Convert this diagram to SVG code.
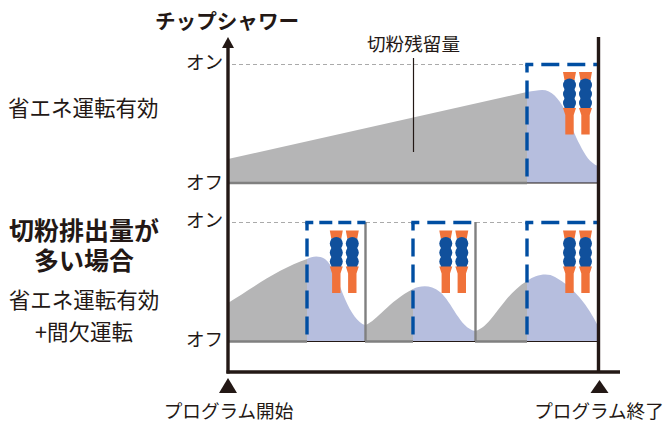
<svg xmlns="http://www.w3.org/2000/svg" width="670" height="427" viewBox="0 0 670 427">
<style>
text{font-family:"Noto Sans CJK JP","Liberation Sans",sans-serif;fill:#231815;font-size:18.6px}
.b{font-weight:700}
.m{text-anchor:middle}
.s{font-size:21.500px}
.grey{fill:#b5b5b6}
.blue{fill:#b6bede}
.on{stroke:#aaa;stroke-width:1;stroke-dasharray:4 3;fill:none}
.gl{stroke:#808080;stroke-width:2.400;fill:none}
.tl{stroke:#231815;stroke-width:1.200;fill:none}
.axis{stroke:#231815;stroke-width:3.400;fill:none}
.dash{stroke:#004ea2;stroke-width:3.400;fill:none;stroke-dasharray:18 8;stroke-dashoffset:10}
.short{stroke-dasharray:13 6;stroke-dashoffset:5}
.o{fill:#f0723a}
.n{fill:#10509c}
</style>
<defs>
<g id="nz">
<path class="o" d="M-6.500 0H6.500L5 8H-5Z"/>
<circle class="n" cx="0" cy="13" r="6.500"/><circle class="n" cx="0" cy="22" r="6.500"/><circle class="n" cx="0" cy="31" r="6.500"/>
<rect class="n" x="-5" y="8" width="10" height="29"/>
<path class="o" d="M-6.500 36H6.500L4.200 43V62.500H-4.200V43Z"/>
</g>
<g id="pair"><use href="#nz" x="0"/><use href="#nz" x="16"/></g>
</defs>

<g id="panel-top">
<path class="grey" d="M228 159L527 92V183H228Z"/>
<path class="blue" d="M527 92C533 91 538 90 542 90C552 90 558 98 565 110C571 124 575 136 580 145C585 155 590 163 598 166V183H527Z"/>
<path class="on" d="M232 64.500H527"/>
<path class="gl" d="M228 183H527"/>
<path class="tl" d="M527 183H598"/>
<path class="tl" d="M413.500 58V152"/>
<use href="#pair" x="569.500" y="72"/>
<path class="dash" d="M527 64.500V183"/>
<path class="dash" d="M525.300 64.500H598"/>
</g>

<g id="panel-bottom">
<path class="grey" d="M228 303C252 288 280 268 307 259V341.500H228Z"/>
<path class="blue" d="M307 259C312 256.500 318 255 325 259C333 265 338 282 345 299C351 313 358 323 365 325V341.500H307Z"/>
<path class="grey" d="M365.500 325C378 320 388 302 413 289V341.500H365.500Z"/>
<path class="blue" d="M413 289C420 286 430 284 440 292C452 302 460 328 475 331V341.500H413Z"/>
<path class="grey" d="M475.500 331C492 327 502 296 527 281V341.500H475.500Z"/>
<path class="blue" d="M527 281C535 275 547 272 555 277C574 287 588 306 598 326V341.500H527Z"/>
<path class="on" d="M232 222.500H307M366 222.500H413M476 222.500H527"/>
<path class="gl" d="M365.500 222V342M475.500 222V342"/>
<path class="gl" d="M228 341.500H307M365 341.500H413M475 341.500H527"/>
<path class="tl" d="M307 341.500H365M413 341.500H475M527 341.500H598"/>
<use href="#pair" x="336.300" y="230.500"/>
<use href="#pair" x="445.800" y="230.500"/>
<use href="#pair" x="569.500" y="230.500"/>
<path class="dash" d="M307 222.500V341.500"/>
<path class="dash short" d="M305.300 222.500H365.500"/>
<path class="dash" d="M413 222.500V341.500"/>
<path class="dash" d="M411.300 222.500H475.500"/>
<path class="dash" d="M527 222.500V341.500"/>
<path class="dash" d="M525.300 222.500H598"/>
</g>

<g id="axes">
<path class="axis" d="M228 46V373.500"/>
<path d="M222 48L228 37L234 48Z" fill="#231815"/>
<path class="axis" d="M598.500 37V373"/>
<path class="axis" d="M226.500 372H620"/>
<path d="M219 393L228 378L237 393Z" fill="#231815"/>
<path d="M590.500 393L599.500 380L608.500 393Z" fill="#231815"/>
</g>

<g id="labels">
<text class="b" x="155" y="29" style="font-size:20.600px">チップシャワー</text>
<text class="m" x="413.500" y="51">切粉残留量</text>
<text x="186" y="69">オン</text>
<text x="186" y="189">オフ</text>
<text x="186" y="227">オン</text>
<text x="186" y="346">オフ</text>
<text class="s" x="8" y="116">省エネ運転有効</text>
<text class="b m" style="font-size:25px"><tspan x="84" y="240">切粉排出量が</tspan><tspan x="84" y="270">多い場合</tspan></text>
<text class="s m" x="84" y="308">省エネ運転有効</text>
<text class="s m" x="84" y="340">+間欠運転</text>
<text class="m" x="228.500" y="418">プログラム開始</text>
<text class="m" x="599" y="418">プログラム終了</text>
</g>
</svg>
